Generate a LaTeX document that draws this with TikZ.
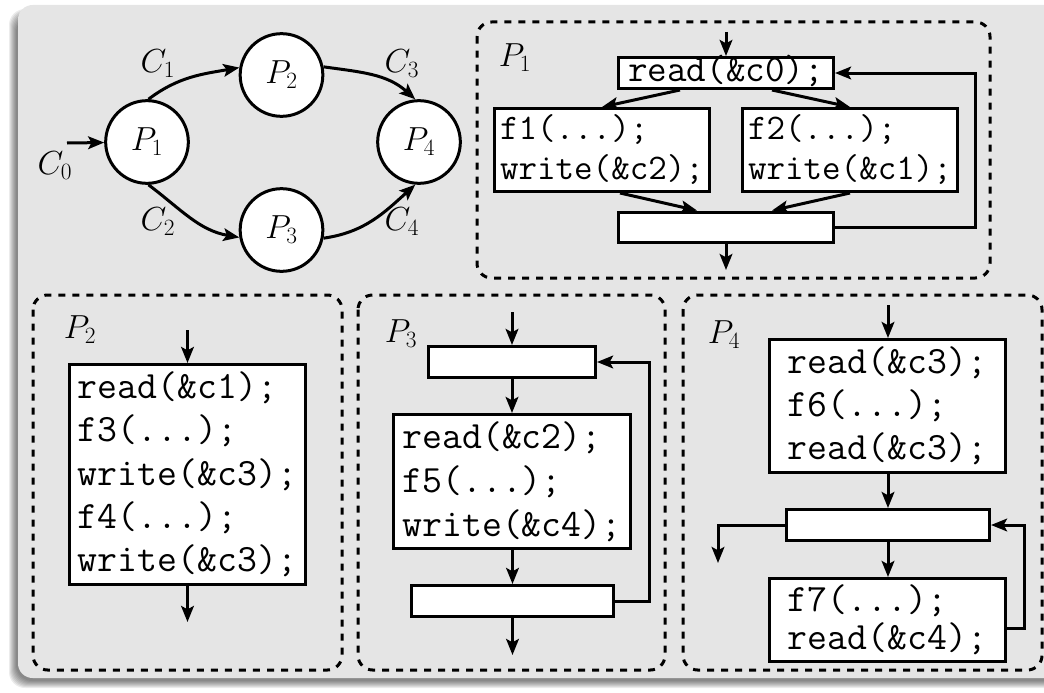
\documentclass[tikz,border=0pt]{standalone}
\usepackage{fix-cm}
\usepackage{fontspec}
\usetikzlibrary{arrows.meta,calc}
\definecolor{panelgray}{HTML}{E5E5E5}
\newcommand\mathlab{\fontsize{25}{30}\selectfont}
\newcommand\codesz[2]{\ttfamily\fontsize{#1}{#2}\selectfont}
\begin{document}
\begin{tikzpicture}[x=0.75pt,y=-0.75pt,font=\mathlab,
  arr/.style={line width=2.25pt,-{Stealth[length=12pt,width=9.5pt,inset=2.5pt]}},
  proc/.style={circle,draw,line width=2.25pt,fill=white,minimum size=62pt,inner sep=0pt},
  codebox/.style={draw,line width=2.25pt,fill=white,align=left,inner sep=0pt},
  panel/.style={draw,line width=2.25pt,dash pattern=on 5.25pt off 5.25pt,rounded corners=11pt},
  lab/.style={inner sep=0pt}]
\path[use as bounding box] (0,0) rectangle (1044,692);

% background panel with a soft shadow
\begin{scope}
  \clip (0,0) rectangle (1044,692);
  \foreach \k in {-4,...,3}
    \fill[black,opacity=0.075,rounded corners=12pt]
      ({12-(\k)},{12-(\k)}) rectangle ({1070+\k},{685+\k});
  \fill[panelgray,rounded corners=11pt] (18,5) rectangle (1070,678);
\end{scope}

% process network
\node[proc] (P1) at (147,142) {$P_1$};
\node[proc] (P2) at (281.5,75) {$P_2$};
\node[proc] (P3) at (281.5,230) {$P_3$};
\node[proc] (P4) at (419,142) {$P_4$};
\coordinate (c0in) at (67,143);
\draw[arr] (c0in) -- (P1);
\draw[arr] (P1.88) to[out=37,in=190] (P2.170);
\draw[arr] (P2.11) to[out=-8,in=138] (P4.95);
\draw[arr] (P1.-88) to[out=-37,in=170] (P3.190);
\draw[arr] (P3.-11) to[out=8,in=222] (P4.265);
\node[lab] (C0) at (55,166) {$C_0$};
\node[lab] (C1) at (158,64) {$C_1$};
\node[lab] (C2) at (158,222) {$C_2$};
\node[lab] (C3) at (402,64) {$C_3$};
\node[lab] (C4) at (402,222) {$C_4$};

% P1 control flow
\draw[panel] (477,22) rectangle (990,278);
\node[lab] (L1) at (515,58) {$P_1$};
\node[codebox,minimum width=161.25pt,minimum height=23.25pt,text height=18pt,text depth=5pt,
  font=\codesz{28.5}{30}] (r0) at (726,73) {read(\&c0);};
\node[codebox,minimum width=161.25pt,minimum height=62.25pt,font=\codesz{27}{30}]
  (f1) at (602,150) {f1(...);\\write(\&c2);};
\node[codebox,minimum width=161.25pt,minimum height=62.25pt,font=\codesz{27}{30}]
  (f2) at (850,150) {f2(...);\\write(\&c1);};
\node[codebox,minimum width=161.25pt,minimum height=22.5pt] (j1) at (726,227) {};
\coordinate (p1in) at (726,32);
\coordinate (p1out) at (726,270);
\draw[arr] (p1in) -- (r0);
\draw[arr] ($(r0.south)+(-46,0)$) -- (f1.north);
\draw[arr] ($(r0.south)+(46,0)$) -- (f2.north);
\draw[arr] ($(f1.south)+(18,0)$) -- ($(j1.north)+(-29,0)$);
\draw[arr] (f2.south) -- ($(j1.north)+(46,0)$);
\draw[arr] (j1.east) -- ++(140,0) |- (r0.east);
\draw[arr] (j1) -- (p1out);

% P2 control flow
\draw[panel] (33,295) rectangle (342,670);
\node[lab] (L2) at (80,330) {$P_2$};
\node[codebox,minimum width=177pt,minimum height=165pt,font=\codesz{29}{32.5}]
  (b2) at (187.5,474.5) {read(\&c1);\\f3(...);\\write(\&c3);\\f4(...);\\write(\&c3);};
\coordinate (p2in) at (187.5,330);
\coordinate (p2out) at (187.5,622);
\draw[arr] (p2in) -- (b2);
\draw[arr] (b2) -- (p2out);

% P3 control flow
\draw[panel] (358,295) rectangle (665,670);
\node[lab] (L3) at (401,334) {$P_3$};
\node[codebox,minimum width=125.25pt,minimum height=23.25pt] (t3) at (512,362) {};
\node[codebox,minimum width=177.75pt,minimum height=100.5pt,font=\codesz{29}{33}]
  (b3) at (512,481.5) {read(\&c2);\\f5(...);\\write(\&c4);};
\node[codebox,minimum width=151.5pt,minimum height=23.25pt] (e3) at (512.5,601) {};
\coordinate (p3in) at (512,312);
\coordinate (p3out) at (512.5,655);
\draw[arr] (p3in) -- (t3);
\draw[arr] (t3) -- (b3);
\draw[arr] (b3.south -| e3) -- (e3);
\draw[arr] (e3.east) -- ++(34,0) |- (t3.east);
\draw[arr] (e3) -- (p3out);

% P4 control flow
\draw[panel] (683,295) rectangle (1042,670);
\node[lab] (L4) at (724,335) {$P_4$};
\node[codebox,minimum width=177pt,minimum height=99.75pt,font=\codesz{29}{32.25}]
  (b4) at (887.5,406) {read(\&c3);\\f6(...);\\read(\&c3);};
\node[codebox,minimum width=152.25pt,minimum height=23.25pt] (m4) at (888,525) {};
\node[codebox,minimum width=177pt,minimum height=62.25pt,font=\codesz{29}{28.5}]
  (f7) at (887.5,620) {f7(...);\\read(\&c4);};
\coordinate (p4in) at (888,305);
\coordinate (p4out) at (718,563);
\draw[arr] (p4in) -- (b4.north -| p4in);
\draw[arr] (b4.south -| m4) -- (m4);
\draw[arr] (m4) -- (f7.north -| m4);
\draw[arr] (m4.west) -| (p4out);
\draw[arr] ($(f7.east)+(0,8)$) -- ++(17,0) |- (m4.east);
\end{tikzpicture}
\end{document}
